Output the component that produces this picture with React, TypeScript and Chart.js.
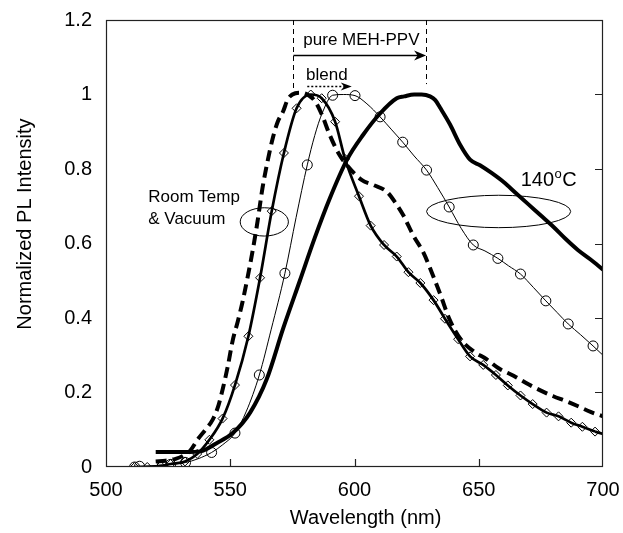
import React, { useEffect, useRef } from "react";
import { Chart, registerables } from "chart.js";

Chart.register(...registerables);

const FONT = "'Liberation Sans', Arial, Helvetica, sans-serif";

// Axis ticks
const xTickValues = [500, 550, 600, 650, 700];
const yTickValues = [0, 0.2, 0.4, 0.6, 0.8, 1, 1.2];

// 140°C (thick solid)
const hotWl = [520, 526, 532, 538, 544.5, 551, 558, 564.7, 571.3, 578, 584, 590, 597, 603.5, 610, 617, 620, 624, 627, 630.4, 632.5, 634.4, 638.4, 642.5, 646.5, 650.5, 655, 660, 665, 670, 675, 680, 685, 690, 695, 700];
const hotPL = [0.04, 0.04, 0.04, 0.042, 0.064, 0.091, 0.146, 0.236, 0.372, 0.5, 0.615, 0.72, 0.825, 0.892, 0.947, 0.99, 0.995, 1.0, 1.0, 0.995, 0.985, 0.965, 0.92, 0.865, 0.825, 0.81, 0.79, 0.765, 0.735, 0.705, 0.675, 0.645, 0.612, 0.582, 0.557, 0.53];

// Blend, room temp & vacuum (thick dashed)
const blendWl = [520, 524, 528, 531, 534, 537, 540, 543, 545, 547, 549, 551, 553, 555, 557, 559, 561, 563, 565, 567, 569, 571.3, 573, 575, 578, 581, 584, 586.8, 590, 593.5, 597.5, 603, 607.6, 613, 616.3, 619.7, 623.7, 627.7, 631.7, 635, 638, 642.5, 648, 653, 658, 664, 670, 675, 680, 685, 690, 695, 700];
const blendPL = [0.015, 0.017, 0.022, 0.03, 0.045, 0.075, 0.1, 0.128, 0.16, 0.21, 0.27, 0.34, 0.39, 0.445, 0.51, 0.58, 0.66, 0.75, 0.82, 0.88, 0.925, 0.955, 0.985, 1.0, 1.005, 1.0, 0.983, 0.947, 0.892, 0.843, 0.806, 0.77, 0.757, 0.739, 0.711, 0.675, 0.621, 0.576, 0.512, 0.455, 0.4, 0.345, 0.31, 0.29, 0.265, 0.245, 0.222, 0.205, 0.19, 0.177, 0.163, 0.148, 0.136];

// Blend (solid with diamonds)
const diaWl = [511.5, 516.6, 522, 526, 531.8, 536.7, 541.6, 546.9, 551.9, 557.3, 562, 566.7, 571.6, 576.7, 582.4, 586.8, 592.2, 596.2, 601.8, 606.5, 611.9, 617, 621.7, 626.5, 631.8, 636.4, 641.7, 646.5, 651.8, 656.9, 661.7, 666.8, 671.7, 677.3, 682.1, 687.2, 691.7, 696.8];
const diaPL = [0, 0, 0.003, 0.008, 0.015, 0.035, 0.073, 0.13, 0.22, 0.351, 0.508, 0.687, 0.843, 0.963, 1.0, 0.99, 0.927, 0.827, 0.727, 0.648, 0.596, 0.565, 0.523, 0.494, 0.448, 0.398, 0.343, 0.297, 0.274, 0.247, 0.219, 0.192, 0.169, 0.146, 0.136, 0.119, 0.108, 0.095];
const diaEndWl = [696.8, 700];
const diaEndPL = [0.095, 0.089];

// Pure MEH-PPV (thin solid with circles)
const pureWl = [511.5, 513.5, 518, 522.7, 527, 532, 537, 542.5, 547, 551.9, 556.5, 561.7, 566.5, 572, 576.5, 581, 584, 587, 591.2, 595.5, 600.2, 605, 610.3, 615, 619.4, 624, 629, 633.5, 638.1, 643, 647.8, 652.5, 657.7, 662, 666.8, 672, 677, 681.5, 686, 691, 696, 700];
const purePL = [0, 0.002, 0.003, 0.005, 0.008, 0.012, 0.022, 0.039, 0.06, 0.091, 0.15, 0.247, 0.37, 0.52, 0.67, 0.811, 0.89, 0.95, 0.998, 1.0, 0.997, 0.975, 0.94, 0.905, 0.872, 0.835, 0.797, 0.75, 0.698, 0.64, 0.596, 0.58, 0.56, 0.54, 0.518, 0.482, 0.446, 0.415, 0.384, 0.355, 0.325, 0.3];
const pureMarkWl = [511.5, 513.5, 522.7, 526, 532, 542.5, 551.9, 561.7, 572, 581, 591.2, 600.2, 610.3, 619.4, 629, 638.1, 647.8, 657.7, 666.8, 677, 686, 696];
const pureMarkPL = [0, 0.002, 0.005, 0.007, 0.012, 0.039, 0.091, 0.247, 0.52, 0.811, 0.998, 0.997, 0.94, 0.872, 0.797, 0.698, 0.596, 0.56, 0.518, 0.446, 0.384, 0.325];

const toXY = (xs: number[], ys: number[]) => xs.map((x, i) => ({ x, y: ys[i] }));

// Annotation anchors (data units)
const pureShiftFrom = 575.4;
const pureShiftTo = 628.8;
const blendShiftFrom = 581;
const blendShiftTo = 598.9;

const annotationPlugin = {
  id: "plAnnotations",
  afterDatasetsDraw(chart: any) {
    const { ctx, chartArea } = chart;
    const xs = chart.scales.x;
    const ys = chart.scales.y;
    const px = (v: number) => xs.getPixelForValue(v);
    const py = (v: number) => ys.getPixelForValue(v);
    ctx.save();

    // frame
    ctx.strokeStyle = "#222";
    ctx.lineWidth = 1.2;
    ctx.setLineDash([]);
    ctx.strokeRect(chartArea.left + 0.5, chartArea.top + 0.5, chartArea.width - 1, chartArea.height - 1);

    // inward ticks: bottom and right
    ctx.lineWidth = 1.2;
    ctx.beginPath();
    xTickValues.slice(1, -1).forEach((v) => {
      const X = Math.round(px(v)) + 0.5;
      ctx.moveTo(X, chartArea.bottom);
      ctx.lineTo(X, chartArea.bottom - 8);
    });
    yTickValues.slice(1, -1).forEach((v) => {
      const Y = Math.round(py(v)) + 0.5;
      ctx.moveTo(chartArea.right, Y);
      ctx.lineTo(chartArea.right - 8, Y);
    });
    ctx.stroke();

    // dashed guide lines
    ctx.strokeStyle = "#000";
    ctx.lineWidth = 1;
    ctx.setLineDash([5, 4]);
    ctx.beginPath();
    ctx.moveTo(Math.round(px(pureShiftFrom)) + 0.5, chartArea.top);
    ctx.lineTo(Math.round(px(pureShiftFrom)) + 0.5, py(1.013));
    ctx.moveTo(Math.round(px(pureShiftTo)) + 0.5, chartArea.top);
    ctx.lineTo(Math.round(px(pureShiftTo)) + 0.5, py(1.028));
    ctx.stroke();
    ctx.setLineDash([]);

    const arrowHead = (tipX: number, tipY: number, len: number, half: number) => {
      ctx.beginPath();
      ctx.moveTo(tipX, tipY);
      ctx.lineTo(tipX - len, tipY - half);
      ctx.lineTo(tipX - len * 0.7, tipY);
      ctx.lineTo(tipX - len, tipY + half);
      ctx.closePath();
      ctx.fill();
    };

    ctx.fillStyle = "#000";
    // pure MEH-PPV arrow
    const ay = Math.round(py(1.106)) + 0.5;
    ctx.lineWidth = 1.6;
    ctx.beginPath();
    ctx.moveTo(px(pureShiftFrom), ay);
    ctx.lineTo(px(pureShiftTo) - 4, ay);
    ctx.stroke();
    arrowHead(px(pureShiftTo), ay, 12, 5);

    // blend arrow (dotted)
    const by = Math.round(py(1.022)) + 0.5;
    ctx.lineWidth = 1.4;
    ctx.setLineDash([2, 2]);
    ctx.beginPath();
    ctx.moveTo(px(blendShiftFrom), by);
    ctx.lineTo(px(blendShiftTo) - 4, by);
    ctx.stroke();
    ctx.setLineDash([]);
    arrowHead(px(blendShiftTo), by, 11, 4);

    // texts
    ctx.fillStyle = "#000";
    ctx.textBaseline = "middle";
    ctx.textAlign = "left";
    ctx.font = `17px ${FONT}`;
    ctx.fillText("pure MEH-PPV", px(579.4), py(1.145));
    ctx.fillText("blend", px(580.5), py(1.052));
    ctx.fillText("Room Temp", px(517), py(0.724));
    ctx.fillText("& Vacuum", px(517), py(0.665));

    // 140°C
    ctx.textBaseline = "alphabetic";
    const tx = px(666.9);
    const tb = py(0.754);
    ctx.font = `20px ${FONT}`;
    ctx.fillText("140", tx, tb);
    const w1 = ctx.measureText("140").width;
    ctx.font = `13px ${FONT}`;
    ctx.fillText("o", tx + w1 + 0.5, tb - 8);
    const w2 = ctx.measureText("o").width;
    ctx.font = `20px ${FONT}`;
    ctx.fillText("C", tx + w1 + w2 + 1, tb);

    // ellipses
    ctx.lineWidth = 1;
    ctx.strokeStyle = "#000";
    const ellipse = (cx: number, cy: number, rxv: number, ryv: number) => {
      const cxp = px(cx);
      const cyp = py(cy);
      const rx = Math.abs(px(cx + rxv) - cxp);
      const ry = Math.abs(py(cy + ryv) - cyp);
      ctx.beginPath();
      ctx.ellipse(cxp, cyp, rx, ry, 0, 0, Math.PI * 2);
      ctx.stroke();
    };
    ellipse(563.7, 0.658, 9.7, 0.038);
    ellipse(658, 0.686, 29, 0.0435);

    ctx.restore();
  },
};

const formatY = (v: number | string) => String(Number(Number(v).toFixed(1)));

export default function App() {
  const canvasRef = useRef<HTMLCanvasElement | null>(null);

  useEffect(() => {
    const canvas = canvasRef.current;
    if (!canvas) return;
    Chart.defaults.font.family = FONT;
    Chart.defaults.color = "#000";

    const chart = new Chart(canvas, {
      type: "scatter",
      data: {
        datasets: [
          {
            label: "140°C",
            data: toXY(hotWl, hotPL),
            showLine: true,
            borderColor: "#000",
            borderWidth: 4,
            pointRadius: 0,
            cubicInterpolationMode: "monotone",
          },
          {
            label: "blend, room temp",
            data: toXY(blendWl, blendPL),
            showLine: true,
            borderColor: "#000",
            borderWidth: 4,
            borderDash: [11, 6],
            pointRadius: 0,
            cubicInterpolationMode: "monotone",
          },
          {
            label: "blend (diamonds)",
            data: toXY(diaWl, diaPL),
            showLine: true,
            borderColor: "#000",
            borderWidth: 2.7,
            pointStyle: "rectRot",
            pointRadius: 4.5,
            pointBorderWidth: 1,
            pointBorderColor: "#000",
            pointBackgroundColor: "rgba(255,255,255,0)",
            cubicInterpolationMode: "monotone",
          },
          {
            label: "blend tail",
            data: toXY(diaEndWl, diaEndPL),
            showLine: true,
            borderColor: "#000",
            borderWidth: 2.7,
            pointRadius: 0,
          },
          {
            label: "pure MEH-PPV",
            data: toXY(pureWl, purePL),
            showLine: true,
            borderColor: "#000",
            borderWidth: 1,
            pointRadius: 0,
            cubicInterpolationMode: "monotone",
          },
          {
            label: "pure MEH-PPV markers",
            data: toXY(pureMarkWl, pureMarkPL),
            showLine: false,
            pointStyle: "circle",
            pointRadius: 5,
            pointBorderWidth: 1,
            pointBorderColor: "#000",
            pointBackgroundColor: "rgba(255,255,255,0)",
          },
        ],
      },
      options: {
        responsive: false,
        animation: false,
        events: [],
        layout: { padding: { left: 0, right: 20, top: 20, bottom: 0 } },
        plugins: {
          legend: { display: false },
          tooltip: { enabled: false },
        },
        scales: {
          x: {
            type: "linear",
            min: 500,
            max: 700,
            afterBuildTicks: (s: any) => {
              s.ticks = xTickValues.map((v) => ({ value: v }));
            },
            ticks: { font: { size: 20, family: FONT }, color: "#000", padding: 11, maxRotation: 0 },
            grid: { display: false, drawTicks: false },
            border: { display: false },
            title: {
              display: true,
              text: "    Wavelength (nm)",
              font: { size: 20, family: FONT },
              color: "#000",
              padding: { top: 0, bottom: 3 },
            },
            afterFit: (s: any) => {
              s.height = 66;
              s.paddingLeft = 0;
              s.paddingRight = 0;
            },
          },
          y: {
            min: 0,
            max: 1.2,
            afterBuildTicks: (s: any) => {
              s.ticks = yTickValues.map((v) => ({ value: v }));
            },
            ticks: {
              font: { size: 20, family: FONT },
              color: "#000",
              padding: 14,
              callback: (v: any) => formatY(v),
            },
            grid: { display: false, drawTicks: false },
            border: { display: false },
            title: {
              display: true,
              text: "       Normalized PL Intensity",
              font: { size: 20, family: FONT },
              color: "#000",
              padding: { top: 13, bottom: 0 },
            },
            afterFit: (s: any) => {
              s.width = 106;
              s.paddingTop = 0;
              s.paddingBottom = 0;
            },
          },
        },
      },
      plugins: [annotationPlugin],
    });

    return () => chart.destroy();
  }, []);

  return (
    <div style={{ position: "fixed", left: 0, top: 0, width: 623, height: 533, background: "#fff" }}>
      <canvas ref={canvasRef} width={623} height={533} style={{ display: "block", width: 623, height: 533 }} />
    </div>
  );
}
